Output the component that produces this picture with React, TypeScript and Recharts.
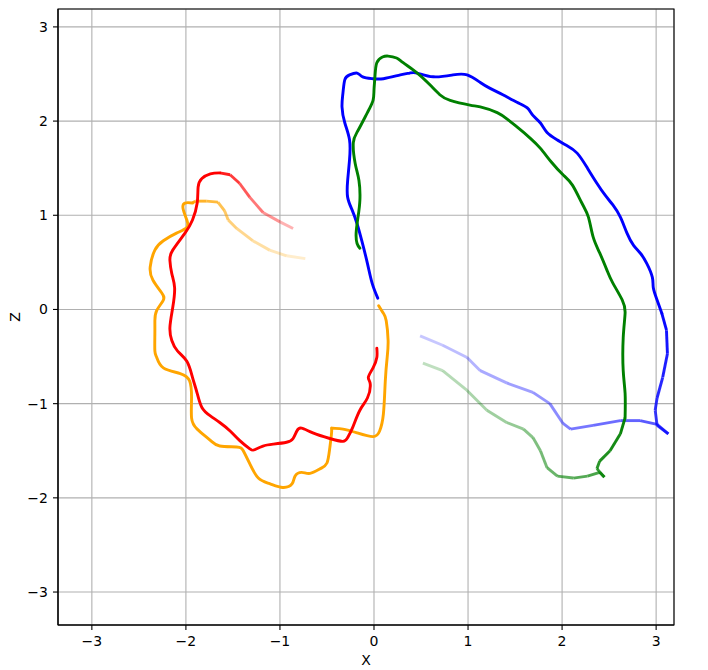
import React from 'react';
import { ComposedChart, Line, XAxis, YAxis, CartesianGrid, ReferenceArea, Label } from 'recharts';

const X_TICKS = [-3, -2, -1, 0, 1, 2, 3];
const Z_TICKS = [-3, -2, -1, 0, 1, 2, 3];

const blueX = [0.49, 0.73, 0.99, 1.13, 1.41, 1.69, 1.87, 2.01, 2.09, 2.33, 2.62, 2.83, 3.01, 3.13, 3.01, 2.99, 3.01, 3.07, 3.12, 3.11, 3.06, 3.01, 2.97, 2.96, 2.9, 2.83, 2.76, 2.69, 2.62, 2.54, 2.46, 2.37, 2.27, 2.16, 2.05, 1.95, 1.84, 1.77, 1.69, 1.63, 1.52, 1.37, 1.23, 1.13, 0.99, 0.84, 0.63, 0.46, 0.38, 0.28, 0.1, -0.01, -0.12, -0.18, -0.26, -0.31, -0.33, -0.34, -0.31, -0.26, -0.26, -0.28, -0.28, -0.23, -0.18, -0.13, -0.07, -0.02, 0.04];
const blueZ = [-0.28, -0.38, -0.51, -0.65, -0.78, -0.88, -1.0, -1.21, -1.27, -1.23, -1.18, -1.18, -1.22, -1.32, -1.23, -1.07, -0.94, -0.72, -0.47, -0.22, -0.04, 0.1, 0.23, 0.34, 0.49, 0.6, 0.68, 0.81, 0.98, 1.11, 1.21, 1.34, 1.5, 1.66, 1.74, 1.8, 1.88, 1.98, 2.06, 2.14, 2.2, 2.28, 2.35, 2.41, 2.49, 2.49, 2.47, 2.51, 2.51, 2.49, 2.45, 2.45, 2.47, 2.51, 2.49, 2.44, 2.3, 2.15, 1.98, 1.8, 1.59, 1.37, 1.19, 1.05, 0.91, 0.73, 0.49, 0.28, 0.12];

const greenX = [0.52, 0.73, 0.99, 1.2, 1.41, 1.59, 1.69, 1.77, 1.84, 1.95, 2.12, 2.27, 2.4, 2.45, 2.37, 2.4, 2.51, 2.62, 2.67, 2.67, 2.65, 2.65, 2.67, 2.64, 2.54, 2.48, 2.4, 2.33, 2.28, 2.21, 2.11, 2.01, 1.89, 1.77, 1.66, 1.53, 1.43, 1.31, 1.13, 1.02, 0.81, 0.7, 0.6, 0.46, 0.31, 0.24, 0.15, 0.09, 0.03, 0.01, 0.0, -0.01, -0.07, -0.17, -0.22, -0.2, -0.16, -0.15, -0.17, -0.19, -0.18, -0.15];
const greenZ = [-0.57, -0.65, -0.86, -1.07, -1.2, -1.27, -1.36, -1.5, -1.68, -1.77, -1.79, -1.77, -1.73, -1.78, -1.69, -1.61, -1.5, -1.32, -1.15, -0.89, -0.65, -0.3, -0.04, 0.1, 0.28, 0.41, 0.6, 0.77, 0.98, 1.13, 1.32, 1.43, 1.56, 1.71, 1.82, 1.93, 2.01, 2.09, 2.15, 2.17, 2.22, 2.28, 2.38, 2.51, 2.62, 2.67, 2.69, 2.68, 2.62, 2.47, 2.33, 2.22, 2.09, 1.9, 1.77, 1.55, 1.37, 1.16, 0.98, 0.81, 0.7, 0.65];

const redX = [-0.86, -1.0, -1.18, -1.32, -1.43, -1.53, -1.64, -1.74, -1.83, -1.87, -1.88, -1.93, -2.01, -2.14, -2.17, -2.15, -2.12, -2.14, -2.17, -2.15, -2.09, -1.99, -1.93, -1.88, -1.83, -1.74, -1.64, -1.53, -1.43, -1.32, -1.27, -1.18, -1.07, -0.93, -0.86, -0.82, -0.77, -0.65, -0.47, -0.33, -0.28, -0.23, -0.15, -0.07, -0.04, -0.06, -0.01, 0.03, 0.03];
const redZ = [0.86, 0.93, 1.03, 1.19, 1.34, 1.43, 1.45, 1.44, 1.39, 1.3, 1.13, 0.95, 0.81, 0.63, 0.52, 0.38, 0.23, 0.02, -0.19, -0.33, -0.44, -0.55, -0.72, -0.89, -1.04, -1.13, -1.2, -1.29, -1.39, -1.48, -1.49, -1.45, -1.43, -1.41, -1.37, -1.29, -1.26, -1.31, -1.37, -1.4, -1.36, -1.26, -1.07, -0.94, -0.79, -0.72, -0.62, -0.51, -0.41];

const orangeX = [-0.73, -0.93, -1.11, -1.29, -1.46, -1.55, -1.59, -1.66, -1.78, -1.9, -1.93, -2.01, -2.03, -1.99, -1.99, -2.1, -2.24, -2.33, -2.38, -2.35, -2.26, -2.24, -2.31, -2.33, -2.33, -2.33, -2.31, -2.24, -2.06, -1.96, -1.94, -1.94, -1.88, -1.74, -1.64, -1.46, -1.39, -1.32, -1.23, -1.11, -0.97, -0.87, -0.84, -0.77, -0.68, -0.57, -0.5, -0.47, -0.45, -0.44, -0.33, -0.18, -0.01, 0.06, 0.1, 0.12, 0.14, 0.15, 0.13, 0.1, 0.05];
const orangeZ = [0.54, 0.57, 0.63, 0.73, 0.86, 0.95, 1.05, 1.14, 1.15, 1.15, 1.13, 1.13, 1.07, 0.95, 0.87, 0.81, 0.73, 0.63, 0.45, 0.31, 0.18, 0.1, -0.01, -0.12, -0.26, -0.44, -0.51, -0.62, -0.68, -0.76, -0.94, -1.15, -1.27, -1.39, -1.45, -1.46, -1.5, -1.64, -1.79, -1.85, -1.89, -1.85, -1.77, -1.73, -1.74, -1.69, -1.63, -1.47, -1.29, -1.26, -1.27, -1.31, -1.35, -1.29, -1.11, -0.76, -0.51, -0.33, -0.12, -0.04, 0.04];

type Pt = { x: number; z: number };
const zip = (xs: number[], zs: number[]): Pt[] => xs.map((x, i) => ({ x, z: zs[i] }));

// draw order: later ones end up on top
const tracks = [
  { name: 'blue', color: '#0000ff', pts: zip(blueX, blueZ), fade: 20, alpha0: 0.22 },
  { name: 'green', color: '#008000', pts: zip(greenX, greenZ), fade: 18, alpha0: 0.25 },
  { name: 'orange', color: '#ffa500', pts: zip(orangeX, orangeZ), fade: 10, alpha0: 0.2 },
  { name: 'red', color: '#ff0000', pts: zip(redX, redZ), fade: 6, alpha0: 0.3 },
];

// faded tail first, one short piece per step, then the rest as one solid line
function pieces(pts: Pt[], fade: number, alpha0: number) {
  const out: { data: Pt[]; opacity: number }[] = [];
  let i = 0;
  for (; i < pts.length - 1 && i < fade; i++) {
    out.push({ data: [pts[i], pts[i + 1]], opacity: alpha0 + ((1 - alpha0) * i) / fade });
  }
  out.push({ data: pts.slice(i), opacity: 1 });
  return out;
}

const fmt = (v: number) => (v < 0 ? '\u2212' + Math.abs(v) : String(v));
const tickStyle = { fill: '#000', fontSize: 14, fontFamily: 'DejaVu Sans' };

const XTitle = () => (
  <text x={358} y={652} textAnchor="middle" dominantBaseline="central" fontSize={14} fontFamily="DejaVu Sans" fill="#000">
    X
  </text>
);

const YTitle = () => (
  <text x={7} y={309} transform="rotate(-90 7 309)" textAnchor="middle" dominantBaseline="central" fontSize={14} fontFamily="DejaVu Sans" fill="#000">
    Z
  </text>
);

export default function App() {
  return (
    <ComposedChart width={700} height={662} margin={{ top: 1, right: 34, bottom: 0, left: 0 }}>
      <CartesianGrid stroke="#b0b0b0" strokeWidth={1.1} />
      <XAxis
        type="number"
        dataKey="x"
        domain={[-3.36, 3.19]}
        ticks={X_TICKS}
        interval={0}
        allowDataOverflow
        height={45}
        tick={tickStyle}
        tickFormatter={fmt}
        tickSize={5}
        tickMargin={6}
        tickLine={{ stroke: '#000', strokeWidth: 1.1 }}
        axisLine={{ stroke: '#000', strokeWidth: 1.1 }}
      >
        <Label content={XTitle} />
      </XAxis>
      <YAxis
        type="number"
        dataKey="z"
        domain={[-3.35, 3.19]}
        ticks={Z_TICKS}
        interval={0}
        allowDataOverflow
        width={50}
        tick={tickStyle}
        tickFormatter={fmt}
        tickSize={5}
        tickMargin={5}
        tickLine={{ stroke: '#000', strokeWidth: 1.1 }}
        axisLine={{ stroke: '#000', strokeWidth: 1.1 }}
      >
        <Label content={YTitle} />
      </YAxis>
      {tracks.flatMap((t) =>
        pieces(t.pts, t.fade, t.alpha0).map((p, j) => (
          <Line
            key={t.name + j}
            data={p.data}
            dataKey="z"
            type={p.opacity < 1 ? 'linear' : 'natural'}
            stroke={t.color}
            strokeOpacity={p.opacity}
            strokeWidth={2.9}
            strokeLinecap={p.opacity < 1 ? 'butt' : 'round'}
            strokeLinejoin="round"
            dot={false}
            activeDot={false}
            legendType="none"
            isAnimationActive={false}
          />
        ))
      )}
      <ReferenceArea x1={-3.36} x2={3.19} y1={-3.35} y2={3.19} fill="none" stroke="#000" strokeWidth={1.1} />
    </ComposedChart>
  );
}
